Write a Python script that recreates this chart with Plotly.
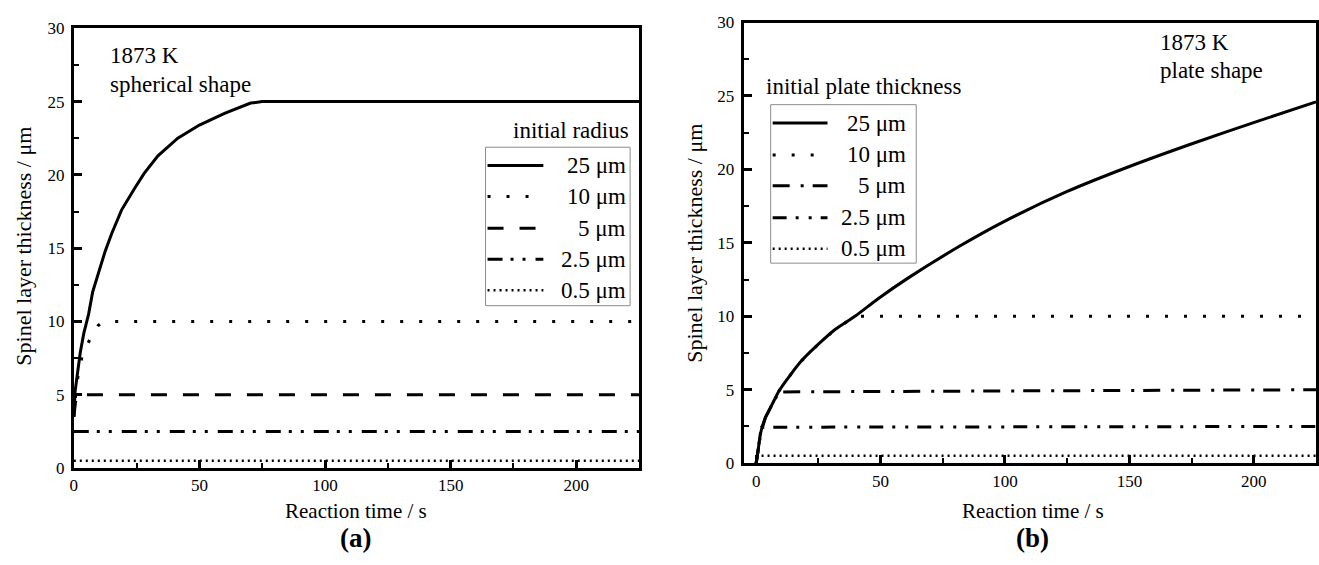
import plotly.graph_objects as go

# ---------------- data ----------------
# (a) spherical shape, 1873 K
sph_t_25 = [0, 0.5, 1.5, 2.6, 4, 5.9, 7.5, 9.9, 12.5, 15.1, 19, 24.3, 28, 33.5, 41.4, 50, 60, 70.4, 75, 225]
sph_y_25 = [3.5, 5.2, 6.5, 7.9, 9.2, 10.5, 12.0, 13.4, 14.8, 16.0, 17.6, 19.1, 20.1, 21.3, 22.5, 23.4, 24.2, 24.9, 25, 25]
sph_t_10 = [0, 1, 2, 3.3, 5, 6.2, 8, 9.6, 11, 13, 225]
sph_y_10 = [3.5, 5.5, 6.6, 7.6, 8.3, 8.7, 9.3, 9.7, 9.9, 10, 10]
sph_t_5 = [0, 0.5, 1, 1.5, 225]
sph_y_5 = [3.5, 4.4, 4.9, 5, 5]
sph_t_25s = [0, 225]
sph_y_25s = [2.5, 2.5]
sph_t_05 = [0, 225]
sph_y_05 = [0.5, 0.5]

# (b) plate shape, 1873 K
pl_t_25 = [0, 0.8, 1.7, 3.7, 6.4, 9.1, 13.7, 18.4, 25, 31.7, 39.7, 49, 61, 82, 99, 125, 150, 176, 202, 225]
pl_y_25 = [0, 0.9, 2.0, 3.1, 4.0, 4.9, 6.0, 7.0, 8.1, 9.1, 10.0, 11.2, 12.6, 14.8, 16.4, 18.5, 20.2, 21.8, 23.3, 24.6]
pl_t_10 = [0, 0.8, 1.7, 3.7, 6.4, 9.1, 13.7, 18.4, 25, 31.7, 39.7, 225]
pl_y_10 = [0, 0.9, 2.0, 3.1, 4.0, 4.9, 6.0, 7.0, 8.1, 9.1, 10.0, 10.0]
pl_t_5 = [0, 0.8, 1.7, 3.7, 6.4, 9.1, 100, 225]
pl_y_5 = [0, 0.9, 2.0, 3.1, 4.0, 4.85, 4.92, 5.0]
pl_t_25s = [0, 0.8, 1.7, 2.2, 225]
pl_y_25s = [0, 0.9, 2.0, 2.45, 2.5]
pl_t_05 = [0, 0.3, 225]
pl_y_05 = [0, 0.5, 0.5]

legend_labels = ["25 μm", "10 μm", "5 μm", "2.5 μm", "0.5 μm"]

# ---------------- styles ----------------
W, H = 1319, 565
FONT = "Liberation Serif"

SOLID = "solid"
SPARSE_DOT = "3px,16px"
DASH = "16px,16px"
DASH_DOT = "17px,11px,3px,9px"
DASH_DOT_DOT_A = "15px,8px,3px,9px,3px,10px"
DASH_DOT_DOT_B = "14px,9px,3px,10px,3px,9px"
DENSE_DOT = "2px,4px"

styles_a = [(SOLID, 3), (SPARSE_DOT, 3), (DASH, 3), (DASH_DOT_DOT_A, 3), (DENSE_DOT, 2.5)]
styles_b = [(SOLID, 3), (SPARSE_DOT, 3), (DASH_DOT, 3), (DASH_DOT_DOT_B, 3), (DENSE_DOT, 2.5)]


def px(x):
    return x / W


def py(y):
    return 1 - y / H


fig = go.Figure()

series_a = [(sph_t_25, sph_y_25), (sph_t_10, sph_y_10), (sph_t_5, sph_y_5),
            (sph_t_25s, sph_y_25s), (sph_t_05, sph_y_05)]
series_b = [(pl_t_25, pl_y_25), (pl_t_10, pl_y_10), (pl_t_5, pl_y_5),
            (pl_t_25s, pl_y_25s), (pl_t_05, pl_y_05)]

# finer patterns first, the solid curve last so it sits on top
for order in [4, 3, 2, 1, 0]:
    t, y = series_a[order]
    dash, w = styles_a[order]
    fig.add_trace(go.Scatter(x=t, y=y, mode="lines", xaxis="x", yaxis="y",
                             line=dict(color="black", width=w, dash=dash),
                             showlegend=False, hoverinfo="skip"))
for order in [4, 3, 2, 1, 0]:
    t, y = series_b[order]
    dash, w = styles_b[order]
    fig.add_trace(go.Scatter(x=t, y=y, mode="lines", xaxis="x2", yaxis="y2",
                             line=dict(color="black", width=w, dash=dash,
                                       shape="spline" if order == 0 else "linear",
                                       smoothing=0.6),
                             showlegend=False, hoverinfo="skip"))

axis_common = dict(
    showline=True, linewidth=3, linecolor="black", mirror=True,
    ticks="inside", ticklen=8, tickwidth=2.5, tickcolor="black",
    showgrid=False, zeroline=False,
    tickfont=dict(family=FONT, size=17, color="black"),
)
minor_x = dict(ticks="inside", ticklen=5, tickwidth=2, tickcolor="black", dtick=25)
minor_y = dict(ticks="inside", ticklen=5, tickwidth=2, tickcolor="black", dtick=2.5)

fig.update_layout(
    width=W, height=H,
    margin=dict(l=0, r=0, t=0, b=0),
    paper_bgcolor="white", plot_bgcolor="white",
    showlegend=False,
    xaxis=dict(domain=[px(70), px(637)], range=[0, 225], tick0=0, dtick=50,
               minor=minor_x, anchor="y", **axis_common),
    yaxis=dict(domain=[py(475), py(20)], range=[0, 30], tick0=0, dtick=5,
               minor=minor_y, ticklabelstandoff=3, anchor="x", **axis_common),
    xaxis2=dict(domain=[px(742), px(1316)], range=[-5, 225], tick0=0, dtick=50,
                minor=minor_x, anchor="y2", **axis_common),
    yaxis2=dict(domain=[py(470), py(14)], range=[0, 30], tick0=0, dtick=5,
                minor=minor_y, ticklabelstandoff=3, anchor="x2", **axis_common),
)

annotations = []
shapes = []


def text(x, y, s, size=23, xanchor="left", angle=0, bold=False):
    annotations.append(dict(
        x=px(x), y=py(y), xref="paper", yref="paper", text=f"<b>{s}</b>" if bold else s,
        showarrow=False, xanchor=xanchor, yanchor="middle", textangle=angle,
        font=dict(family=FONT, size=size, color="black"),
    ))


def legend_box(x0, x1, y0, y1, rows, styles, line_x0, line_x1, text_right):
    shapes.append(dict(type="rect", xref="paper", yref="paper",
                       x0=px(x0), x1=px(x1), y0=py(y1), y1=py(y0),
                       line=dict(color="#8c8c8c", width=1), fillcolor="rgba(0,0,0,0)"))
    for (label, ry), (dash, w) in zip(rows, styles):
        shapes.append(dict(type="line", xref="paper", yref="paper",
                           x0=px(line_x0), x1=px(line_x1), y0=py(ry), y1=py(ry),
                           line=dict(color="black", width=w, dash=dash)))
        text(text_right, ry, label, xanchor="right")


# panel (a) texts
text(104, 48, "1873 K")
text(104, 78, "spherical shape")
text(629, 126, "initial radius", xanchor="right")
rows_a = list(zip(legend_labels, [162, 194, 227, 259, 291]))
legend_box(483, 628, 143, 307, rows_a, styles_a, 485, 541, 626)
text(353, 519, "Reaction time / s", size=21, xanchor="center")
text(20, 245, "Spinel layer thickness / μm", size=22, xanchor="center", angle=-90)
text(353, 547, "(a)", size=27, xanchor="center", bold=True)

# panel (b) texts
text(1158, 35, "1873 K")
text(1158, 64, "plate shape")
text(762, 80, "initial plate thickness")
rows_b = list(zip(legend_labels, [118, 151, 183, 216, 248]))
legend_box(769, 915, 99, 263, rows_b, styles_b, 771, 826, 907)
text(1032, 519, "Reaction time / s", size=21, xanchor="center")
text(693, 242, "Spinel layer thickness / μm", size=22, xanchor="center", angle=-90)
text(1032, 547, "(b)", size=27, xanchor="center", bold=True)

fig.update_layout(annotations=annotations, shapes=shapes)

fig.write_html("out.html")
